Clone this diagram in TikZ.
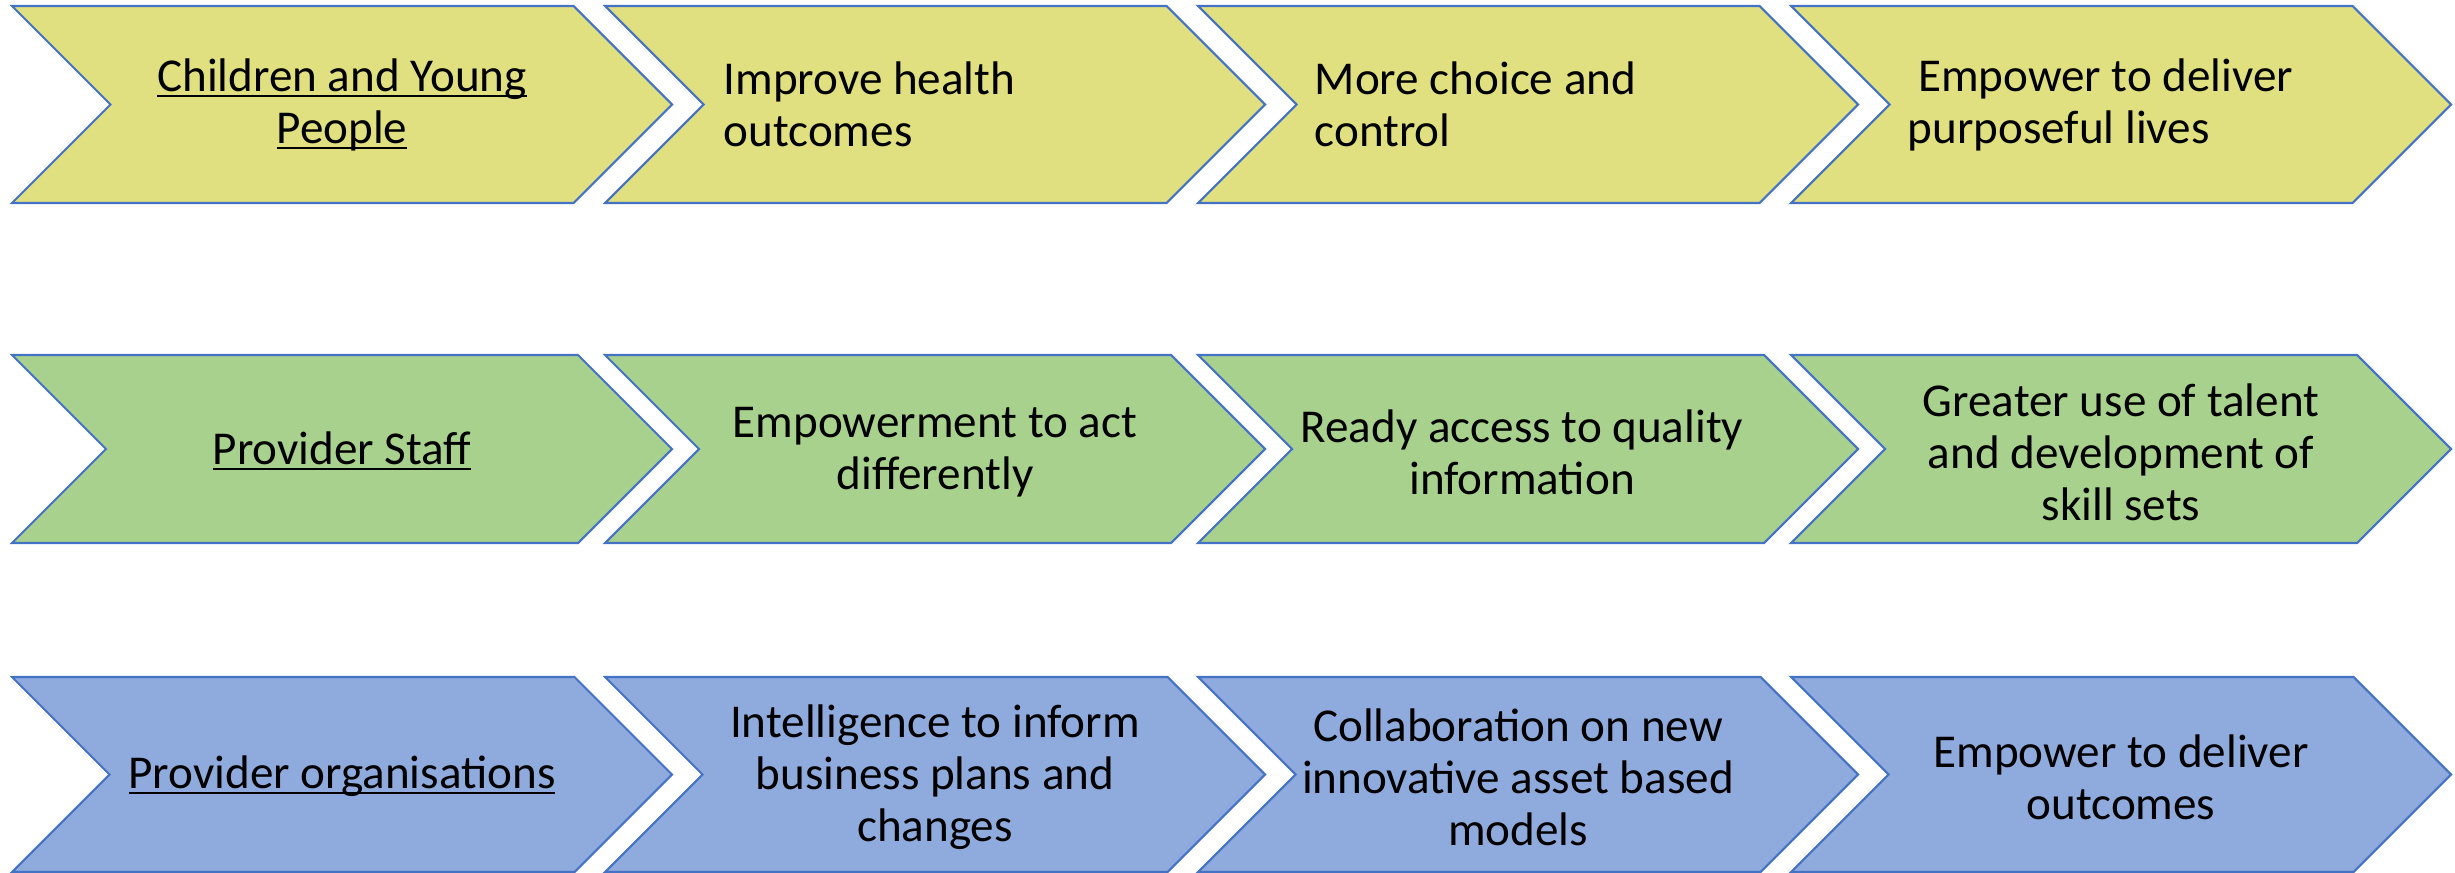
\documentclass[tikz,border=0pt]{standalone}
\usepackage{fontspec}
\setmainfont{Carlito}
\newcommand{\uln}[1]{\setbox0\hbox{#1}\rlap{\rule[-1.7pt]{\wd0}{0.6pt}}\box0}
\definecolor{yellowfill}{HTML}{E0E080}
\definecolor{greenfill}{HTML}{A9D18E}
\definecolor{bluefill}{HTML}{8FAADC}
\definecolor{edgeblue}{HTML}{4472C4}

\begin{document}
\begin{tikzpicture}[x=0.01cm,y=-0.01cm,
  chev/.style={draw=edgeblue, line width=0.6pt, line join=miter},
  txt/.style={font=\fontsize{13.4}{14.8}\selectfont, align=center, inner sep=0pt},
  ltxt/.style={txt, align=left, anchor=west}]
\useasboundingbox (0,0) rectangle (2455,873);

% three rows of four chevrons
\foreach \ya/\yb/\col in {6/203/yellowfill, 355/543/greenfill, 677/872/bluefill}
\foreach \k in {0,1,2,3}
{
\pgfmathsetmacro{\lft}{12+593*\k}
\pgfmathsetmacro{\dep}{(\yb-\ya)/2}
\pgfmathsetmacro{\ym}{(\ya+\yb)/2}
\draw[chev, fill=\col] (\lft,\ya) -- (\lft+660-\dep,\ya) -- (\lft+660,\ym)
  -- (\lft+660-\dep,\yb) -- (\lft,\yb) -- (\lft+\dep,\ym) -- cycle;
}

% row 1
\node[txt] (cyp) at (342,104.5) {\uln{Children and Young}\\\uln{People}};
\node[ltxt] (health) at (723,104.5) {Improve health\\outcomes};
\node[ltxt] (choice) at (1314,104.5) {More choice and\\control};
\node[ltxt] (lives) at (1907,104.5) {\hspace*{.22em}Empower to deliver\\purposeful lives};

% row 2
\node[txt] (staff) at (342,451) {\uln{Provider Staff}};
\node[txt] (act) at (935,452) {Empowerment to act\\differently};
\node[txt] (info) at (1522,452) {Ready access to quality\\information};
\node[txt] (talent) at (2121,452) {Greater use of talent\\and development of\\skill sets};

% row 3
\node[txt] (orgs) at (342,776) {\uln{Provider organisations}};
\node[txt] (intel) at (935,777) {Intelligence to inform\\business plans and\\changes};
\node[txt] (collab) at (1518,777) {Collaboration on new\\innovative asset based\\models};
\node[txt] (deliver) at (2121,777) {Empower to deliver\\outcomes};
\end{tikzpicture}
\end{document}
